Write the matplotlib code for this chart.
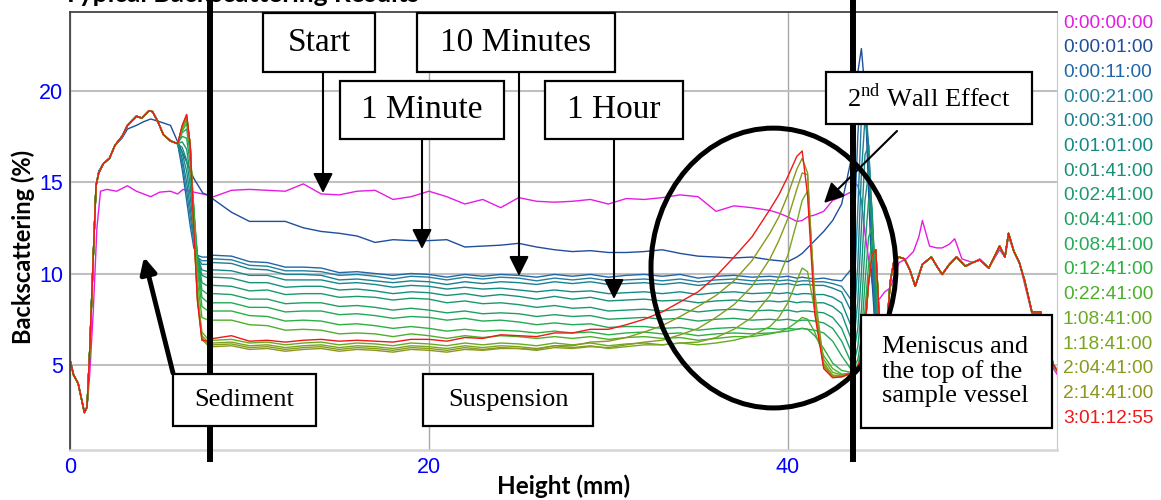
import matplotlib.pyplot as plt
from matplotlib.patches import Rectangle, Ellipse, FancyArrowPatch

plt.rcParams['font.family'] = 'Liberation Sans'
plt.rcParams['mathtext.fontset'] = 'custom'
plt.rcParams['mathtext.rm'] = 'Liberation Serif'

W, H = 1161, 500

# Legend (scan times) and colours
LABELS = ["0:00:00:00", "0:00:01:00", "0:00:11:00", "0:00:21:00", "0:00:31:00",
          "0:01:01:00", "0:01:41:00", "0:02:41:00", "0:04:41:00", "0:08:41:00",
          "0:12:41:00", "0:22:41:00", "1:08:41:00", "1:18:41:00", "2:04:41:00",
          "2:14:41:00", "3:01:12:55"]
COLORS = ["#E41CE4", "#1F4E9C", "#2166A8", "#237FA0", "#1A8090",
          "#148A88", "#179078", "#1A9A6A", "#20A060", "#22AA55",
          "#2CB040", "#4CB02A", "#6AAA22", "#7AA420", "#869C1C",
          "#8C961C", "#F01818"]

# Height (mm) grids
X_SED = [0, 0.2, 0.45, 0.65, 0.8, 0.95, 1.1, 1.3, 1.45, 1.6, 1.85, 2.2, 2.5, 2.9,
         3.2, 3.7, 4.0, 4.4, 4.6, 4.9, 5.2, 5.6]
X_DROP = [6.0, 6.25, 6.5, 6.7, 6.9, 7.1, 7.35, 7.7]
X_MID = [8, 9, 10, 11, 12, 13, 14, 15, 16, 17, 18, 19,
         20, 21, 22, 23, 24, 25, 26, 27, 28, 29, 30, 31,
         32, 33, 34, 35, 36, 37, 38, 39,
         39.5, 40, 40.5, 40.8, 41.1, 41.5, 42, 42.5, 43, 43.5]
X_WALL = [43.7, 43.9, 44.1, 44.3, 44.5, 44.7, 44.9, 45.1, 45.4]
X_RIGHT = [45.7, 45.9, 46.2, 46.5, 46.8, 47.1, 47.5, 48.0, 48.3, 48.6, 49.0, 49.4,
           49.9, 50.3, 50.7, 51.2, 51.5, 51.8, 52.1, 52.3, 52.6, 52.9, 53.2, 53.6,
           54.1, 54.4, 54.8, 55.0]

# Backscattering (%) shared by the sediment / top part of most scans
Y_SED = [5.27, 4.45, 4.0, 3.1, 2.4, 2.7, 5.8, 11.0, 14.8, 15.5, 16.0, 16.3, 17.0, 17.5,
         18.1, 18.6, 18.5, 18.9, 18.85, 18.3, 17.6, 17.25]
Y_RIGHT = [9.5, 10.6, 10.9, 10.8, 10.2, 9.3, 10.5, 10.9, 10.4, 9.95, 10.5, 10.9,
           10.4, 10.6, 10.75, 10.3, 10.9, 11.5, 10.9, 12.2, 11.2, 10.6, 9.6, 7.9,
           7.9, 6.5, 5.0, 4.7]

# 0:00:00:00
X_T0_LEFT = [0, 0.2, 0.45, 0.65, 0.8, 0.95, 1.1, 1.3, 1.5, 1.7, 2.05, 2.6, 3.2, 3.7,
             4.5, 5.0, 5.6, 6.0, 6.3, 6.9, 7.4]
Y_T0_LEFT = [5.27, 4.45, 4.0, 3.1, 2.4, 2.7, 4.5, 8.0, 12.5, 14.5, 14.6, 14.5, 14.8, 14.5,
             14.2, 14.45, 14.5, 14.35, 14.6, 14.45, 14.35]
MID_T0 = [14.2, 14.55, 14.6, 14.55, 14.5, 14.9, 14.35, 14.3, 14.5, 14.55, 14.05, 14.2,
          14.5, 14.2, 13.8, 14.05, 13.6, 14.15, 13.95, 13.9, 13.95, 14.05, 13.8, 14.1,
          14.05, 14.15, 14.3, 14.2, 13.4, 13.7, 13.6, 13.45,
          13.3, 13.1, 12.85, 12.9, 13.1, 13.2, 13.4, 14.0, 14.2, 14.45]
WALL_T0 = [15.0, 14.8, 14.0, 12.2, 10.8, 9.5, 8.7, 8.6, 9.0]
X_T0_RIGHT = [45.7, 46.2, 46.6, 47.0, 47.3, 47.5, 47.7, 47.9, 48.3, 48.6, 49.0, 49.3,
              49.7, 50.3, 50.7, 51.2, 51.5, 51.8, 52.1, 52.3, 52.6, 52.9, 53.2, 53.6,
              54.1, 54.4, 54.8, 55.0]
Y_T0_RIGHT = [9.2, 10.6, 10.8, 11.2, 12.0, 12.9, 12.2, 11.5, 11.4, 11.4, 11.6, 11.9,
              10.8, 10.6, 10.8, 10.3, 10.8, 11.3, 10.9, 12.0, 11.2, 10.6, 9.4, 7.8,
              7.8, 6.3, 4.8, 4.5]

# 0:00:01:00
X_T1_LEFT = [0, 0.2, 0.45, 0.65, 0.8, 0.95, 1.1, 1.3, 1.45, 1.6, 1.85, 2.2, 2.5, 2.9,
             3.2, 3.7, 4.1, 4.5, 5.0, 5.6, 6.0, 6.5, 6.9, 7.4, 7.8]
Y_T1_LEFT = [5.27, 4.45, 4.0, 3.1, 2.4, 2.7, 5.8, 11.0, 14.8, 15.6, 16.0, 16.3, 17.0, 17.4,
             17.9, 18.1, 18.3, 18.45, 18.3, 18.1, 17.2, 16.1, 15.2, 14.4, 14.25]
MID_T1 = [14.05, 13.35, 12.85, 12.85, 12.85, 12.5, 12.3, 12.2, 12.05, 11.7, 11.85, 11.8,
          11.8, 11.85, 11.45, 11.5, 11.55, 11.65, 11.45, 11.3, 11.2, 11.25, 11.15, 11.15,
          11.2, 11.3, 11.1, 10.95, 10.9, 10.85, 10.9, 10.75,
          10.7, 10.65, 10.9, 11.1, 11.4, 11.8, 12.3, 12.9, 13.8, 16.1]
WALL_T1 = [17.5, 21.0, 22.3, 20.0, 14.5, 9.5, 6.5, 4.6, 5.5]

# later scans: drop at the sediment edge, suspension, wall region
DROP_0011 = [17.1, 15.7, 14.0, 12.6, 11.4, 11.0, 10.9, 10.9]
DROP_0021 = [17.1, 16.0, 14.5, 13.1, 11.7, 10.9, 10.7, 10.7]
DROP_0031 = [17.1, 16.3, 15.0, 13.6, 12.0, 10.9, 10.5, 10.5]
DROP_0101 = [17.1, 16.6, 15.6, 14.2, 12.4, 10.9, 10.2, 10.1]
DROP_0141 = [17.1, 16.9, 16.2, 14.8, 12.8, 11.0, 9.9, 9.75]
DROP_0241 = [17.1, 17.2, 16.8, 15.4, 13.2, 11.0, 9.5, 9.3]
DROP_0441 = [17.1, 17.5, 17.4, 16.0, 13.5, 10.9, 9.1, 8.85]
DROP_0841 = [17.1, 17.7, 17.9, 16.5, 13.6, 10.6, 8.7, 8.4]
DROP_1241 = [17.1, 17.8, 18.2, 16.8, 13.4, 10.2, 8.2, 7.95]
DROP_2241 = [17.1, 17.9, 18.4, 17.0, 13.0, 9.6, 7.6, 7.45]
DROP_10841 = [17.1, 18.0, 18.5, 17.0, 12.6, 9.0, 6.8, 6.4]
DROP_11841 = [17.1, 18.0, 18.6, 17.0, 12.5, 8.8, 6.6, 6.25]
DROP_20441 = [17.1, 18.0, 18.6, 17.0, 12.4, 8.7, 6.5, 6.15]
DROP_21441 = [17.1, 18.0, 18.65, 17.0, 12.4, 8.6, 6.4, 6.05]
DROP_RED = [17.1, 18.1, 18.7, 17.0, 12.4, 8.5, 6.35, 6.3]

MID_0011 = [11.0, 10.95, 10.65, 10.6, 10.35, 10.35, 10.3, 10.05, 10.1, 10.0, 9.9, 10.0,
            9.95, 9.8, 9.95, 9.85, 9.95, 9.9, 9.8, 9.95, 9.85, 9.95, 9.8, 9.9,
            9.95, 9.85, 9.95, 9.75, 9.85, 9.9, 9.8, 9.85,
            9.8, 9.85, 9.75, 9.8, 9.75, 9.7, 9.75, 9.65, 9.6, 10.2]
MID_0021 = [10.8, 10.75, 10.45, 10.4, 10.15, 10.15, 10.1, 9.9, 9.95, 9.85, 9.7, 9.85,
            9.8, 9.65, 9.8, 9.7, 9.8, 9.75, 9.6, 9.75, 9.65, 9.75, 9.6, 9.65,
            9.7, 9.6, 9.7, 9.55, 9.65, 9.7, 9.6, 9.65,
            9.6, 9.65, 9.55, 9.6, 9.6, 9.55, 9.55, 9.45, 9.3, 8.6]
MID_0031 = [10.6, 10.55, 10.25, 10.2, 9.95, 9.95, 9.9, 9.65, 9.7, 9.6, 9.5, 9.6,
            9.55, 9.4, 9.55, 9.45, 9.55, 9.5, 9.4, 9.55, 9.45, 9.55, 9.4, 9.45,
            9.5, 9.4, 9.5, 9.35, 9.45, 9.5, 9.4, 9.45,
            9.4, 9.45, 9.35, 9.4, 9.4, 9.35, 9.35, 9.2, 9.0, 8.0]
MID_0101 = [10.2, 10.15, 9.9, 9.9, 9.65, 9.65, 9.65, 9.45, 9.5, 9.4, 9.25, 9.35,
            9.3, 9.15, 9.25, 9.15, 9.2, 9.1, 9.0, 9.1, 9.0, 9.05, 8.9, 8.95,
            9.0, 8.9, 9.0, 8.85, 8.95, 9.0, 8.9, 8.95,
            8.9, 8.95, 8.85, 8.9, 8.9, 8.85, 8.85, 8.7, 8.4, 7.2]
MID_0141 = [9.8, 9.75, 9.5, 9.5, 9.25, 9.3, 9.3, 9.1, 9.15, 9.05, 8.9, 9.0,
            8.95, 8.8, 8.9, 8.75, 8.85, 8.75, 8.6, 8.75, 8.6, 8.7, 8.5, 8.55,
            8.6, 8.5, 8.55, 8.4, 8.5, 8.55, 8.45, 8.5,
            8.45, 8.5, 8.4, 8.45, 8.45, 8.4, 8.4, 8.2, 7.8, 6.5]
MID_0241 = [9.35, 9.3, 9.05, 9.1, 8.85, 8.9, 8.9, 8.7, 8.75, 8.7, 8.55, 8.65,
            8.6, 8.4, 8.5, 8.35, 8.4, 8.3, 8.15, 8.25, 8.1, 8.15, 7.95, 8.0,
            8.05, 7.95, 8.05, 7.9, 8.0, 8.05, 7.95, 8.0,
            7.95, 8.0, 7.9, 7.95, 7.95, 7.9, 7.85, 7.6, 7.0, 5.8]
MID_0441 = [8.9, 8.85, 8.6, 8.6, 8.35, 8.4, 8.4, 8.2, 8.25, 8.15, 8.0, 8.1,
            8.0, 7.85, 7.95, 7.8, 7.85, 7.8, 7.65, 7.75, 7.65, 7.7, 7.5, 7.55,
            7.6, 7.5, 7.55, 7.4, 7.5, 7.55, 7.45, 7.5,
            7.45, 7.5, 7.4, 7.45, 7.45, 7.4, 7.3, 7.0, 6.3, 5.2]
MID_0841 = [8.4, 8.4, 8.15, 8.15, 7.9, 7.95, 7.95, 7.75, 7.8, 7.7, 7.55, 7.65,
            7.6, 7.45, 7.55, 7.4, 7.45, 7.35, 7.2, 7.3, 7.2, 7.25, 7.05, 7.1,
            7.1, 7.0, 7.05, 6.9, 7.0, 7.05, 6.95, 7.0,
            6.95, 7.0, 6.95, 7.0, 6.95, 6.9, 6.75, 6.3, 5.5, 4.8]
MID_1241 = [7.95, 7.95, 7.7, 7.65, 7.4, 7.45, 7.4, 7.2, 7.25, 7.15, 7.0, 7.1,
            7.0, 6.85, 6.95, 6.85, 6.9, 6.85, 6.75, 6.85, 6.75, 6.8, 6.65, 6.75,
            6.8, 6.7, 6.75, 6.6, 6.7, 6.75, 6.7, 6.75,
            6.8, 6.85, 6.95, 7.0, 6.95, 6.6, 5.9, 5.1, 4.7, 4.6]
MID_2241 = [7.45, 7.45, 7.2, 7.15, 6.9, 6.95, 6.9, 6.7, 6.75, 6.7, 6.55, 6.7,
            6.6, 6.45, 6.6, 6.5, 6.6, 6.55, 6.45, 6.55, 6.45, 6.55, 6.4, 6.5,
            6.55, 6.45, 6.5, 6.35, 6.45, 6.55, 6.55, 6.7,
            6.8, 7.0, 7.35, 7.6, 7.5, 6.8, 5.5, 4.8, 4.5, 4.55]
MID_10841 = [6.35, 6.4, 6.2, 6.25, 6.1, 6.2, 6.25, 6.1, 6.2, 6.15, 6.05, 6.2,
             6.15, 6.05, 6.2, 6.1, 6.2, 6.15, 6.05, 6.2, 6.1, 6.2, 6.05, 6.15,
             6.2, 6.1, 6.2, 6.1, 6.2, 6.35, 6.6, 7.1,
             7.6, 8.4, 9.6, 10.3, 10.1, 8.0, 5.3, 4.6, 4.45, 4.55]
MID_11841 = [6.2, 6.25, 6.05, 6.1, 5.95, 6.05, 6.1, 5.95, 6.05, 6.0, 5.9, 6.05,
             6.0, 5.9, 6.05, 5.95, 6.05, 6.0, 5.9, 6.05, 5.95, 6.05, 5.9, 6.0,
             6.1, 6.1, 6.2, 6.25, 6.5, 6.95, 7.6, 8.8,
             9.8, 11.0, 12.8, 14.0, 14.5, 9.0, 5.1, 4.45, 4.4, 4.5]
MID_20441 = [6.1, 6.15, 5.95, 6.0, 5.85, 5.95, 6.0, 5.85, 5.95, 5.9, 5.8, 5.95,
             5.9, 5.8, 5.95, 5.85, 5.95, 5.9, 5.8, 5.95, 5.9, 6.0, 5.95, 6.1,
             6.25, 6.35, 6.65, 7.0, 7.6, 8.3, 9.3, 10.8,
             11.8, 13.0, 14.6, 15.5, 15.4, 8.5, 5.0, 4.4, 4.4, 4.5]
MID_21441 = [6.0, 6.05, 5.85, 5.9, 5.75, 5.85, 5.9, 5.75, 5.85, 5.8, 5.7, 5.85,
             5.8, 5.7, 5.85, 5.8, 5.9, 5.9, 5.85, 6.05, 6.05, 6.25, 6.3, 6.5,
             6.8, 7.15, 7.65, 8.2, 8.8, 9.6, 10.7, 12.2,
             13.1, 14.3, 15.7, 16.3, 15.5, 8.0, 4.9, 4.35, 4.35, 4.5]
MID_RED = [6.45, 6.6, 6.3, 6.35, 6.25, 6.35, 6.4, 6.3, 6.35, 6.3, 6.25, 6.4,
           6.4, 6.3, 6.5, 6.45, 6.65, 6.6, 6.55, 6.75, 6.75, 6.95, 6.95, 7.2,
           7.5, 7.9, 8.45, 9.0, 9.85, 10.9, 12.0, 13.5,
           14.3, 15.3, 16.4, 16.7, 14.3, 7.8, 4.8, 4.3, 4.35, 4.55]

WALL_0011 = [12.5, 17.5, 21.0, 20.5, 16.0, 10.5, 6.5, 4.6, 5.5]
WALL_0021 = [9.0, 13.5, 18.5, 19.8, 17.0, 11.5, 7.0, 4.8, 5.5]
WALL_0031 = [7.5, 10.5, 15.5, 18.5, 17.0, 12.5, 7.5, 5.0, 5.5]
WALL_0101 = [6.5, 8.5, 12.5, 16.5, 17.0, 13.0, 8.0, 5.0, 5.5]
WALL_0141 = [5.8, 7.0, 10.0, 14.0, 15.5, 13.5, 9.0, 5.5, 5.5]
WALL_0241 = [5.2, 6.0, 8.0, 11.5, 14.0, 13.0, 9.5, 6.0, 5.5]
WALL_0441 = [4.9, 5.3, 6.5, 9.5, 12.0, 12.5, 10.0, 6.5, 5.3]
WALL_0841 = [4.7, 5.0, 5.8, 8.0, 10.5, 11.8, 10.5, 7.0, 5.0]
WALL_LATE = [4.7, 4.9, 5.5, 7.0, 9.5, 11.0, 11.3, 7.5, 4.8]

BOUNDARIES = [7.8, 43.65]  # thick vertical markers (mm)


def px(x, y):
    return x / W, 1 - y / H


def label_box(fig, x0, y0, x1, y1, text, size, left=None):
    fig.add_artist(Rectangle(px(x0, y1), (x1 - x0) / W, (y1 - y0) / H,
                             transform=fig.transFigure, facecolor='white',
                             edgecolor='black', lw=1.6, zorder=8))
    if left is None:
        tx, ha = (x0 + x1) / 2, 'center'
    else:
        tx, ha = left, 'left'
    fig.text(*px(tx, (y0 + y1) / 2), text, ha=ha, va='center', fontsize=size,
             family='Liberation Serif', linespacing=1.1, zorder=9)


def arrow(fig, start, tip, lw=1.5, scale=20):
    fig.add_artist(FancyArrowPatch(px(*start), px(*tip), transform=fig.transFigure,
                                   arrowstyle='-|>,head_length=0.6,head_width=0.3',
                                   mutation_scale=scale, lw=lw, color='black',
                                   shrinkA=0, shrinkB=0, zorder=9))


def main():
    fig = plt.figure(figsize=(W / 100, H / 100), dpi=100)
    ax = fig.add_axes([70 / W, 1 - 450 / H, 987 / W, 438 / H])

    fan_x = X_SED + X_DROP + X_MID + X_WALL + X_RIGHT
    fan = [(DROP_0011, MID_0011, WALL_0011), (DROP_0021, MID_0021, WALL_0021),
           (DROP_0031, MID_0031, WALL_0031), (DROP_0101, MID_0101, WALL_0101),
           (DROP_0141, MID_0141, WALL_0141), (DROP_0241, MID_0241, WALL_0241),
           (DROP_0441, MID_0441, WALL_0441), (DROP_0841, MID_0841, WALL_0841),
           (DROP_1241, MID_1241, WALL_LATE), (DROP_2241, MID_2241, WALL_LATE),
           (DROP_10841, MID_10841, WALL_LATE), (DROP_11841, MID_11841, WALL_LATE),
           (DROP_20441, MID_20441, WALL_LATE), (DROP_21441, MID_21441, WALL_LATE),
           (DROP_RED, MID_RED, WALL_LATE)]

    ax.plot(X_T0_LEFT + X_MID + X_WALL + X_T0_RIGHT,
            Y_T0_LEFT + MID_T0 + WALL_T0 + Y_T0_RIGHT, color=COLORS[0], lw=1.0)
    ax.plot(X_T1_LEFT + X_MID + X_WALL + X_RIGHT,
            Y_T1_LEFT + MID_T1 + WALL_T1 + Y_RIGHT, color=COLORS[1], lw=1.0)
    for i, (drop, mid, wall) in enumerate(fan):
        ax.plot(fan_x, Y_SED + drop + mid + wall + Y_RIGHT, color=COLORS[i + 2], lw=1.0)

    ax.set_xlim(0, 55)
    ax.set_ylim(0.35, 24.3)
    ax.set_xticks([0, 20, 40])
    ax.set_yticks([5, 10, 15, 20])
    ax.tick_params(length=0, labelsize=15.5, labelcolor='#0000FF', pad=5)
    ax.yaxis.grid(True, color='#C0C0C0', lw=1.5)
    ax.xaxis.grid(True, color='#A8A8A8', lw=1.0)
    ax.set_axisbelow(True)
    for side in ['left', 'top']:
        ax.spines[side].set_color('#444444')
        ax.spines[side].set_linewidth(1.3)
    ax.spines['right'].set_color('#C8C8C8')
    ax.spines['bottom'].set_color('#D4D4D4')
    ax.spines['bottom'].set_linewidth(1.8)

    ax.set_xlabel('Height (mm)', fontsize=17.5, fontweight='bold', family='Lato', va='center')
    ax.xaxis.set_label_coords(0.5, -0.083)
    ax.set_ylabel('Backscattering (%)', fontsize=17, fontweight='bold', family='Lato',
                  va='center')
    ax.yaxis.set_label_coords(-0.0476, 0.4635)

    # title sits above the picture; only its lowest strokes show, as in the scan
    fig.text(*px(63, 1.5), 'Typical Backscattering Results', fontsize=19, fontweight='bold',
             family='Lato', va='baseline', ha='left')

    # region markers and the circled wall effect
    for xb in BOUNDARIES:
        ax.plot([xb, xb], [-0.14, 26], color='black', lw=4.3, clip_on=False, zorder=6)
    ax.add_patch(Ellipse((39.2, 10.3), 13.65, 15.3, fill=False, lw=3.6, ec='black',
                         clip_on=False, zorder=5))

    # annotation boxes
    label_box(fig, 263, 13, 375, 72, 'Start', 24)
    label_box(fig, 340, 81, 504, 139, '1 Minute', 24)
    label_box(fig, 417, 13, 615, 72, '10 Minutes', 24)
    label_box(fig, 545, 81, 683, 139, '1 Hour', 24)
    label_box(fig, 826, 72, 1032, 124, r'2$^{\mathrm{nd}}$ Wall Effect', 19)
    label_box(fig, 173, 374, 316, 426, 'Sediment', 19)
    label_box(fig, 423, 374, 593, 426, 'Suspension', 19)
    label_box(fig, 861, 315, 1052, 428, 'Meniscus and\nthe top of the\nsample vessel', 19,
              left=882)

    arrow(fig, (323, 72), (323, 193))
    arrow(fig, (422, 139), (422, 249))
    arrow(fig, (519, 72), (519, 276))
    arrow(fig, (614, 139), (614, 299))
    arrow(fig, (897, 131), (824, 203))
    arrow(fig, (173, 373), (144, 257), lw=3.5, scale=16)

    # time labels on the right
    for i, (lab, col) in enumerate(zip(LABELS, COLORS)):
        fig.text(*px(1063, 23 + 24.7 * i), lab, color=col, fontsize=13.8,
                 va='center', ha='left')

    fig.savefig('out.png', dpi=100)
    plt.close(fig)


if __name__ == '__main__':
    main()
